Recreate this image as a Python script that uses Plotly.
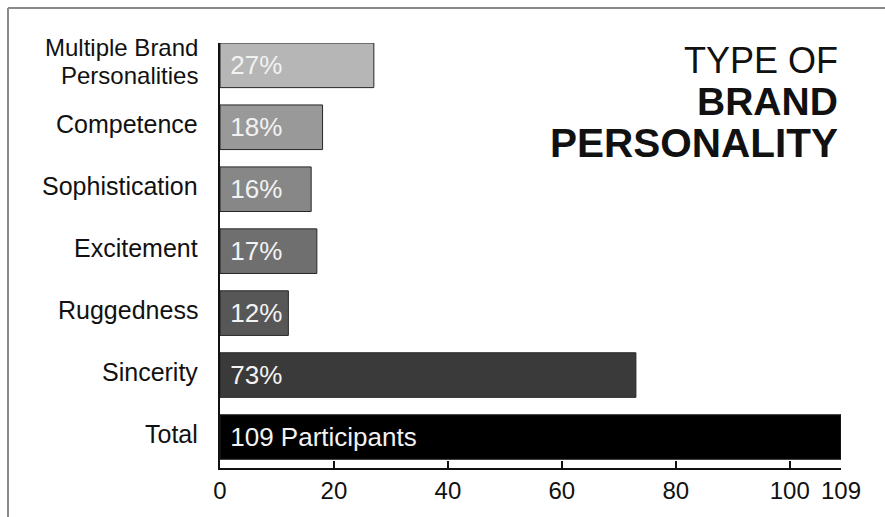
import plotly.graph_objects as go

# Data (top to bottom as displayed)
categories = ["Multiple Brand Personalities", "Competence", "Sophistication",
              "Excitement", "Ruggedness", "Sincerity", "Total"]
label_lines = [["Multiple Brand", "Personalities"], ["Competence"], ["Sophistication"],
               ["Excitement"], ["Ruggedness"], ["Sincerity"], ["Total"]]
values = [27, 18, 16, 17, 12, 73, 109]
bar_labels = ["27%", "18%", "16%", "17%", "12%", "73%", "109 Participants"]
colors = ["#b6b6b6", "#999999", "#878787", "#6f6f6f", "#575757", "#3a3a3a", "#000000"]
tick_vals = [0, 20, 40, 60, 80, 100, 109]

W, H = 885, 517
L, R, T, B = 220, 44, 43, 49
PW, PH = W - L - R, H - T - B

def px(x):
    return (x - L) / PW

def py(y):
    return (H - B - y) / PH

cats_rev = categories[::-1]
fig = go.Figure(go.Bar(
    y=cats_rev,
    x=values[::-1],
    orientation="h",
    marker=dict(color=colors[::-1], line=dict(color="#262626", width=1)),
    text=["\u00a0" + t for t in bar_labels[::-1]],
    textposition="inside",
    insidetextanchor="start",
    textfont=dict(family="Liberation Sans, Arial", size=26, color="#f2f2f2"),
    hoverinfo="skip",
))

annotations = []
for cat, lines in zip(categories, label_lines):
    n = len(lines)
    size = 25 if n == 1 else 24
    for i, ln in enumerate(lines):
        shift = 3 + (15 if n > 1 and i == 0 else (-13 if n > 1 else 0))
        annotations.append(dict(
            x=px(200), xref="paper", xanchor="right",
            y=cat, yref="y", yanchor="middle", yshift=shift,
            text=ln, showarrow=False,
            font=dict(family="Liberation Sans, Arial", size=size, color="#111111"),
        ))

title_font = "Liberation Sans, Arial"
annotations += [
    dict(x=px(840), xref="paper", xanchor="right", y=py(60), yref="paper",
         yanchor="middle", text="TYPE OF", showarrow=False,
         font=dict(family=title_font, size=36, color="#111111")),
    dict(x=px(840), xref="paper", xanchor="right", y=py(102), yref="paper",
         yanchor="middle", text="<b>BRAND</b>", showarrow=False,
         font=dict(family=title_font, size=39, color="#111111")),
    dict(x=px(840), xref="paper", xanchor="right", y=py(143), yref="paper",
         yanchor="middle", text="<b>PERSONALITY</b>", showarrow=False,
         font=dict(family=title_font, size=40.5, color="#111111")),
]

shapes = [
    dict(type="line", xref="paper", yref="paper", x0=px(8), x1=px(900),
         y0=py(8), y1=py(8), line=dict(color="#8a8a8a", width=2)),
    dict(type="line", xref="paper", yref="paper", x0=px(8), x1=px(8),
         y0=py(8), y1=py(530), line=dict(color="#8a8a8a", width=2)),
]

fig.update_layout(
    width=W, height=H,
    margin=dict(l=L, r=R, t=T, b=B, pad=0),
    paper_bgcolor="white", plot_bgcolor="white",
    showlegend=False,
    bargap=0.28,
    uniformtext=dict(minsize=26, mode="show"),
    annotations=annotations,
    shapes=shapes,
    xaxis=dict(
        range=[0, 109], tickvals=tick_vals, ticktext=[str(v) for v in tick_vals],
        ticks="inside", ticklen=7, tickwidth=1.5, tickcolor="#111111",
        showline=True, linecolor="#111111", linewidth=1.5,
        showgrid=False, zeroline=False,
        tickfont=dict(family="Liberation Sans, Arial", size=24, color="#111111"),
    ),
    yaxis=dict(
        type="category", range=[-0.5, 6.36],
        showticklabels=False, ticks="",
        showline=True, linecolor="#111111", linewidth=1.5,
        showgrid=False, zeroline=False,
    ),
)

fig.write_html("out.html")
